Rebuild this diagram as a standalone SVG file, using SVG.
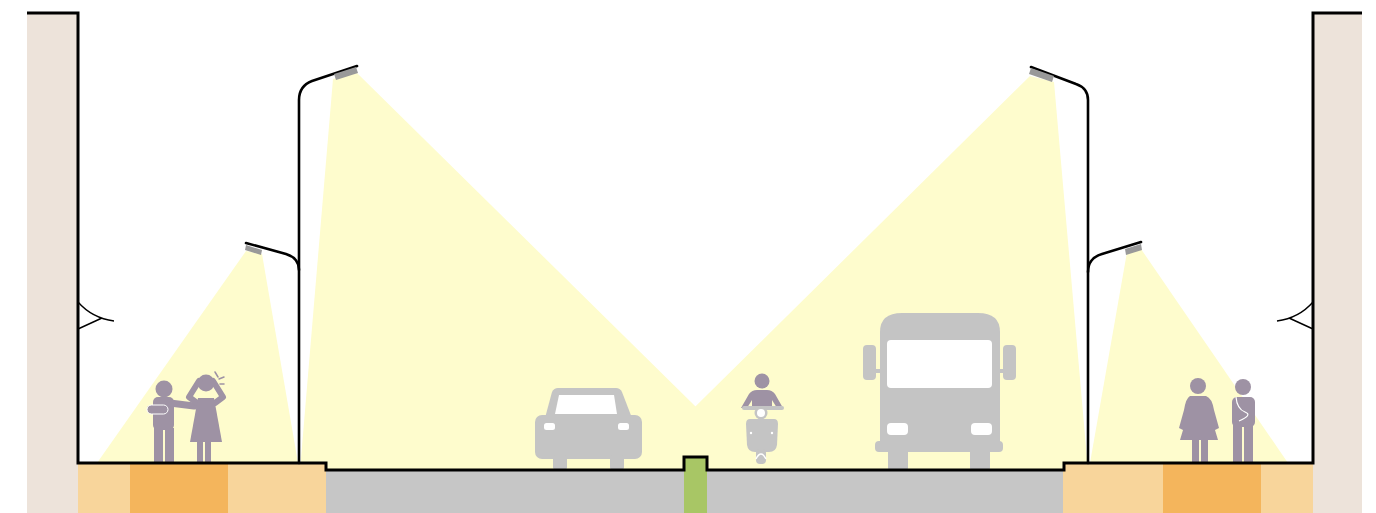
<svg xmlns="http://www.w3.org/2000/svg" width="1376" height="513" viewBox="0 0 1376 513">
  <style>
    .light { fill: #FEFCCD; }
    .wall { fill: #EDE3DA; }
    .walk-l { fill: #F8D59B; }
    .walk-d { fill: #F4B55C; }
    .road { fill: #C6C6C6; }
    .veh { fill: #C4C4C4; }
    .hole { fill: #FFFFFF; }
    .ppl { fill: #9E92A4; }
    .pole { fill: none; stroke: #000; stroke-width: 2.6; stroke-linecap: round; stroke-linejoin: round; }
    .head { fill: #999999; }
    .edge { fill: none; stroke: #000; stroke-width: 3; stroke-linejoin: miter; }
    .thin { fill: none; stroke: #000; stroke-width: 1.4; }
  </style>
  <rect width="1376" height="513" fill="#FFFFFF"/>

  <!-- light cones -->
  <g id="cones">
    <polygon class="light" points="246,251 262,254 298,463 97,463"/>
    <polygon class="light" points="333,79 357,73 760,470 300,470"/>
    <polygon class="light" points="1030,76 1054,82 1088,470 631,470"/>
    <polygon class="light" points="1127,252 1141,249 1288,463 1090,463"/>
  </g>

  <!-- walls, sidewalks, road -->
  <g id="ground">
    <rect class="wall" x="27" y="13" width="51" height="500"/>
    <rect class="wall" x="1313" y="13" width="49" height="500"/>
    <rect class="walk-l" x="78" y="464" width="52" height="49"/>
    <rect class="walk-d" x="130" y="464" width="98" height="49"/>
    <rect class="walk-l" x="228" y="464" width="98" height="49"/>
    <rect class="walk-l" x="1063" y="464" width="100" height="49"/>
    <rect class="walk-d" x="1163" y="464" width="98" height="49"/>
    <rect class="walk-l" x="1261" y="464" width="52" height="49"/>
    <rect class="road" x="326" y="471" width="737" height="42"/>
    <rect fill="#A8C665" x="684" y="457" width="23" height="56"/>
  </g>

  <!-- pedestrians, left -->
  <g id="people-left" class="ppl">
    <circle cx="164" cy="389" r="8.5"/>
    <rect x="153" y="397" width="21" height="33" rx="5"/>
    <line x1="170" y1="403" x2="194" y2="406" stroke="#9E92A4" stroke-width="7" stroke-linecap="round"/>
    <rect x="147" y="405" width="21" height="9" rx="4.5" stroke="#FFFFFF" stroke-width="1"/>
    <rect x="154" y="428" width="9" height="35"/>
    <rect x="165" y="428" width="9" height="35"/>
    <circle cx="206" cy="383" r="8.5"/>
    <path d="M199,381 L189,397 L197,403 M213,381 L223,397 L215,403" fill="none" stroke="#9E92A4" stroke-width="6" stroke-linejoin="round" stroke-linecap="round"/>
    <path d="M198,398 H214 L222,442 H190 Z"/>
    <rect x="197" y="441" width="6" height="22"/>
    <rect x="205" y="441" width="6" height="22"/>
    <path d="M215,372 L218,377 M219,379 L224,377 M220,384 L224,384" fill="none" stroke="#9E92A4" stroke-width="1.5" stroke-linecap="round"/>
  </g>

  <!-- car -->
  <g id="car" class="veh">
    <path d="M558,388 H616 Q620,388 622,392 L632,418 H545 L552,392 Q554,388 558,388 Z"/>
    <rect x="535" y="415" width="107" height="44" rx="7"/>
    <rect x="553" y="455" width="14" height="15" rx="3"/>
    <rect x="610" y="455" width="14" height="15" rx="3"/>
    <polygon class="hole" points="559,395 614,395 617,414 555,414"/>
    <rect class="hole" x="544" y="423" width="11" height="7" rx="2.5"/>
    <rect class="hole" x="618" y="423" width="11" height="7" rx="2.5"/>
  </g>

  <!-- scooter -->
  <g id="scooter">
    <circle class="ppl" cx="762" cy="381" r="7.5"/>
    <path class="ppl" d="M757,390 H767 Q772,390 775,394 L783,408 H777 L772,400 V407 H752 V400 L747,408 H741 L749,394 Q752,390 757,390 Z"/>
    <rect class="veh" x="742" y="406" width="42" height="4" rx="2"/>
    <circle class="veh" cx="761" cy="413" r="6.5"/>
    <circle class="hole" cx="761" cy="413" r="4"/>
    <path class="veh" d="M750,419 H774 Q778,419 778,424 L777,445 Q776,452 769,452 H755 Q748,452 747,445 L746,424 Q746,419 750,419 Z"/>
    <circle class="hole" cx="751" cy="433" r="1.2"/>
    <circle class="hole" cx="772" cy="433" r="1.2"/>
    <rect class="veh" x="756" y="449" width="10" height="15" rx="4"/>
    <path d="M756,459 Q761,449 766,459" fill="none" stroke="#FFFFFF" stroke-width="1.5"/>
  </g>

  <!-- bus -->
  <g id="bus" class="veh">
    <path d="M880,332 Q880,313 902,313 H978 Q1000,313 1000,332 V443 H880 Z"/>
    <rect x="875" y="441" width="128" height="11" rx="4"/>
    <rect x="888" y="450" width="20" height="20" rx="2"/>
    <rect x="970" y="450" width="20" height="20" rx="2"/>
    <rect x="863" y="345" width="13" height="35" rx="4"/>
    <rect x="1003" y="345" width="13" height="35" rx="4"/>
    <rect x="874" y="369" width="8" height="4"/>
    <rect x="998" y="369" width="8" height="4"/>
    <rect class="hole" x="887" y="340" width="105" height="48" rx="4"/>
    <rect class="hole" x="887" y="423" width="21" height="12" rx="4"/>
    <rect class="hole" x="971" y="423" width="21" height="12" rx="4"/>
  </g>

  <!-- pedestrians, right -->
  <g id="people-right" class="ppl">
    <circle cx="1198" cy="386" r="8"/>
    <path d="M1190,396 H1206 Q1212,398 1214,410 L1219,428 L1215,430 L1212,420 L1218,440 H1180 L1186,420 L1183,430 L1179,428 L1184,410 Q1186,398 1190,396 Z"/>
    <rect x="1192" y="439" width="7" height="24"/>
    <rect x="1201" y="439" width="7" height="24"/>
    <circle cx="1243" cy="387" r="8"/>
    <rect x="1232" y="397" width="23" height="30" rx="5"/>
    <rect x="1233" y="425" width="9" height="38"/>
    <rect x="1244" y="425" width="9" height="38"/>
    <path d="M1236,397 Q1237,409 1245,412 Q1253,415 1239,421" fill="none" stroke="#FFFFFF" stroke-width="1.2"/>
  </g>

  <!-- lamp posts -->
  <g id="lamp-left">
    <path class="pole" d="M299,463 V270 Q299,258 286,254 L246,243"/>
    <path class="pole" d="M299,270 V100 Q299,86 312,81 L357,66"/>
    <polygon class="head" points="246,245 262,250 261,255 245,250"/>
    <polygon class="head" points="334,74 356,67 358,73 336,80"/>
  </g>
  <g id="lamp-right">
    <path class="pole" d="M1088,463 V272 Q1088,258 1102,254 L1141,242"/>
    <path class="pole" d="M1088,272 V100 Q1088,88 1076,84 L1031,67"/>
    <polygon class="head" points="1125,249 1141,244 1142,250 1126,255"/>
    <polygon class="head" points="1031,68 1054,76 1052,82 1029,74"/>
  </g>

  <!-- wall lamps -->
  <g id="wall-lamp-left">
    <path class="thin" d="M78,302 Q92,318 114,321 M102,318 L78,329"/>
  </g>
  <g id="wall-lamp-right">
    <path class="thin" d="M1313,302 Q1299,318 1277,321 M1289,318 L1313,329"/>
  </g>

  <!-- section outline -->
  <g id="outline">
    <path class="edge" d="M27,13 H78 V463 H326 V470 H684 V457 H707 V470 H1064 V463 H1313 V13 H1362"/>
  </g>
</svg>
